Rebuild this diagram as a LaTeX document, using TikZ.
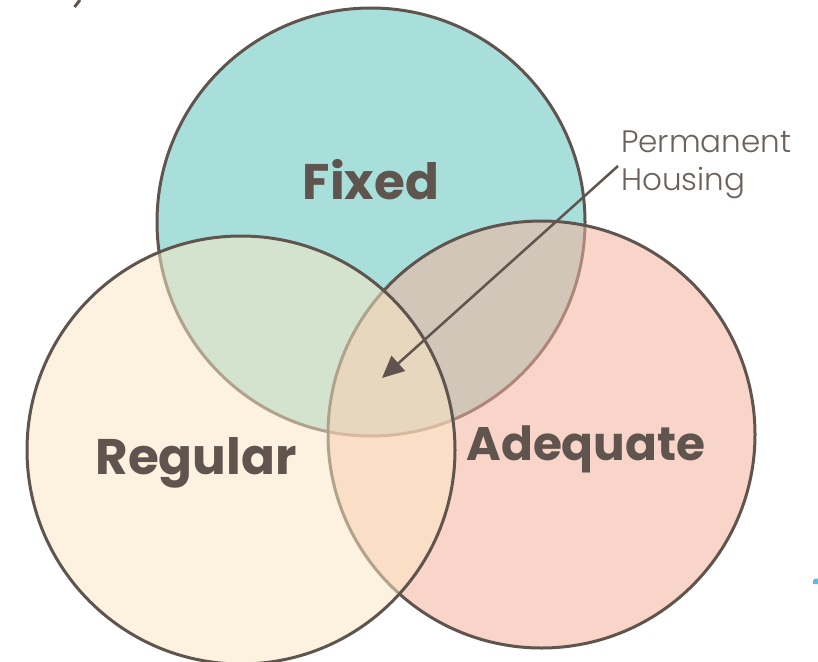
\documentclass[tikz,border=0pt]{standalone}
\usepackage{fontspec}
\setmainfont{Poppins}
\newfontfamily\thinf{Poppins Light}
\usetikzlibrary{arrows.meta}
\definecolor{fixedc}{HTML}{A9DFDA}
\definecolor{regc}{HTML}{FBE7C4}
\definecolor{adqc}{HTML}{F4B19D}
\definecolor{linec}{HTML}{5F554E}
\definecolor{txtc}{HTML}{5F554E}
\definecolor{lblc}{HTML}{6B625C}
\definecolor{markc}{HTML}{5BC0E0}
\tikzset{
  setcircle/.style={draw=linec, line width=3pt},
  biglabel/.style={font=\fontsize{50}{60}\selectfont\bfseries, text=txtc, inner sep=0pt},
  smalllabel/.style={font=\thinf\fontsize{31}{38}\selectfont, text=lblc, inner sep=0pt, align=left, anchor=north west},
  pointer/.style={draw=linec, line width=2.5pt, -{Triangle[length=22pt,width=20pt]}}
}
\begin{document}
\begin{tikzpicture}[x=1pt,y=-1pt]
\useasboundingbox (0,0) rectangle (818,661);
\fill[white] (0,0) rectangle (818,661);
% circles: Fixed, Adequate, Regular
\filldraw[setcircle, fill=fixedc] (371,222) circle[radius=214];
\fill[adqc, opacity=0.54] (541.5,434.5) circle[radius=213.5];
\draw[setcircle] (541.5,434.5) circle[radius=213.5];
\fill[regc, opacity=0.53] (241,450) circle[radius=214];
\draw[setcircle] (241,450) circle[radius=214];
% labels
\node[biglabel] (fixed) at (371,180) {Fixed};
\node[biglabel] (regular) at (196,463) {Regular};
\node[biglabel, font=\fontsize{47}{56}\selectfont\bfseries] (adequate) at (586,449) {Adequate};
\node[smalllabel] (perm) at (621,131) {Permanent\\Housing};
% pointer
\coordinate (pstart) at (618,166);
\coordinate (ptip) at (382,378);
\draw[pointer] (pstart) -- (ptip);
% fragments at edges
\draw[linec, line width=3pt] (80,0) -- (74.5,7);
\fill[markc] (813,584) -- (813,581) to[out=90,in=180] (816,578.5) -- (818,578.5) -- (818,584) -- cycle;
\end{tikzpicture}
\end{document}
